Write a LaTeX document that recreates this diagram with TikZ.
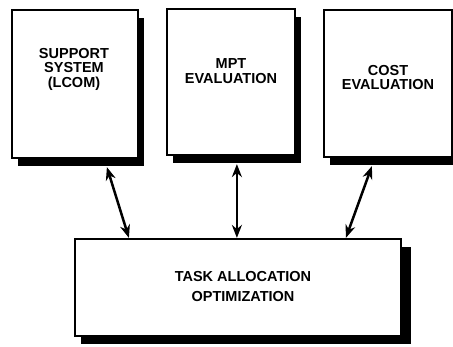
\documentclass[tikz,border=0pt]{standalone}
\usepackage{fontspec}
\setmainfont{Liberation Sans}
\usetikzlibrary{arrows.meta,shadows,calc}

\tikzset{
  block/.style={draw=black, line width=2.2pt, fill=white, rectangle, inner sep=0pt,
    drop shadow={shadow xshift=6pt, shadow yshift=-8pt, fill=black, opacity=1}},
  wideblock/.style={block,
    drop shadow={shadow xshift=10pt, shadow yshift=-8pt, fill=black, opacity=1}},
  toptext/.style={align=center, inner sep=0pt, font=\fontsize{14.5}{14.5}\selectfont\bfseries},
  bottext/.style={align=center, inner sep=0pt, font=\fontsize{14.5}{20}\selectfont\bfseries},
  link/.style={line width=2.5pt, {Stealth[length=13pt,width=10pt]}-{Stealth[length=13pt,width=10pt]}}
}

\begin{document}
\begin{tikzpicture}[x=1pt, y=-1pt]
  \useasboundingbox (0,0) rectangle (453,346);

  % upper row of modules
  \node[block, minimum width=126pt, minimum height=148pt] (sup) at (75,84) {};
  \node[block, minimum width=128pt, minimum height=146pt] (mpt) at (231,82) {};
  \node[block, minimum width=128pt, minimum height=147pt] (cost) at (388,83.5) {};
  % optimizer underneath
  \node[wideblock, minimum width=326pt, minimum height=97pt] (opt) at (238,287.5) {};

  \node[toptext] (supt) at (74,69) {SUPPORT\\SYSTEM\\(LCOM)};
  \node[toptext] (mptt) at (231,71) {MPT\\EVALUATION};
  \node[toptext] (costt) at (388,77.5) {COST\\EVALUATION};
  \node[bottext] (optt) at (243,287) {TASK ALLOCATION\\OPTIMIZATION};

  % connector end points on the shadow edges and the optimizer top
  \coordinate (s1) at ($(sup.south west)+(96,8)$);
  \coordinate (s2) at ($(mpt.south west)+(71,8)$);
  \coordinate (s3) at ($(cost.south west)+(49,8)$);
  \coordinate (e1) at ($(opt.north west)+(55,0)$);
  \coordinate (e2) at ($(opt.north west)+(163,0)$);
  \coordinate (e3) at ($(opt.north west)+(272,0)$);

  \draw[link] (s1) -- (e1);
  \draw[link] (s2) -- (e2);
  \draw[link] (s3) -- (e3);
\end{tikzpicture}
\end{document}
